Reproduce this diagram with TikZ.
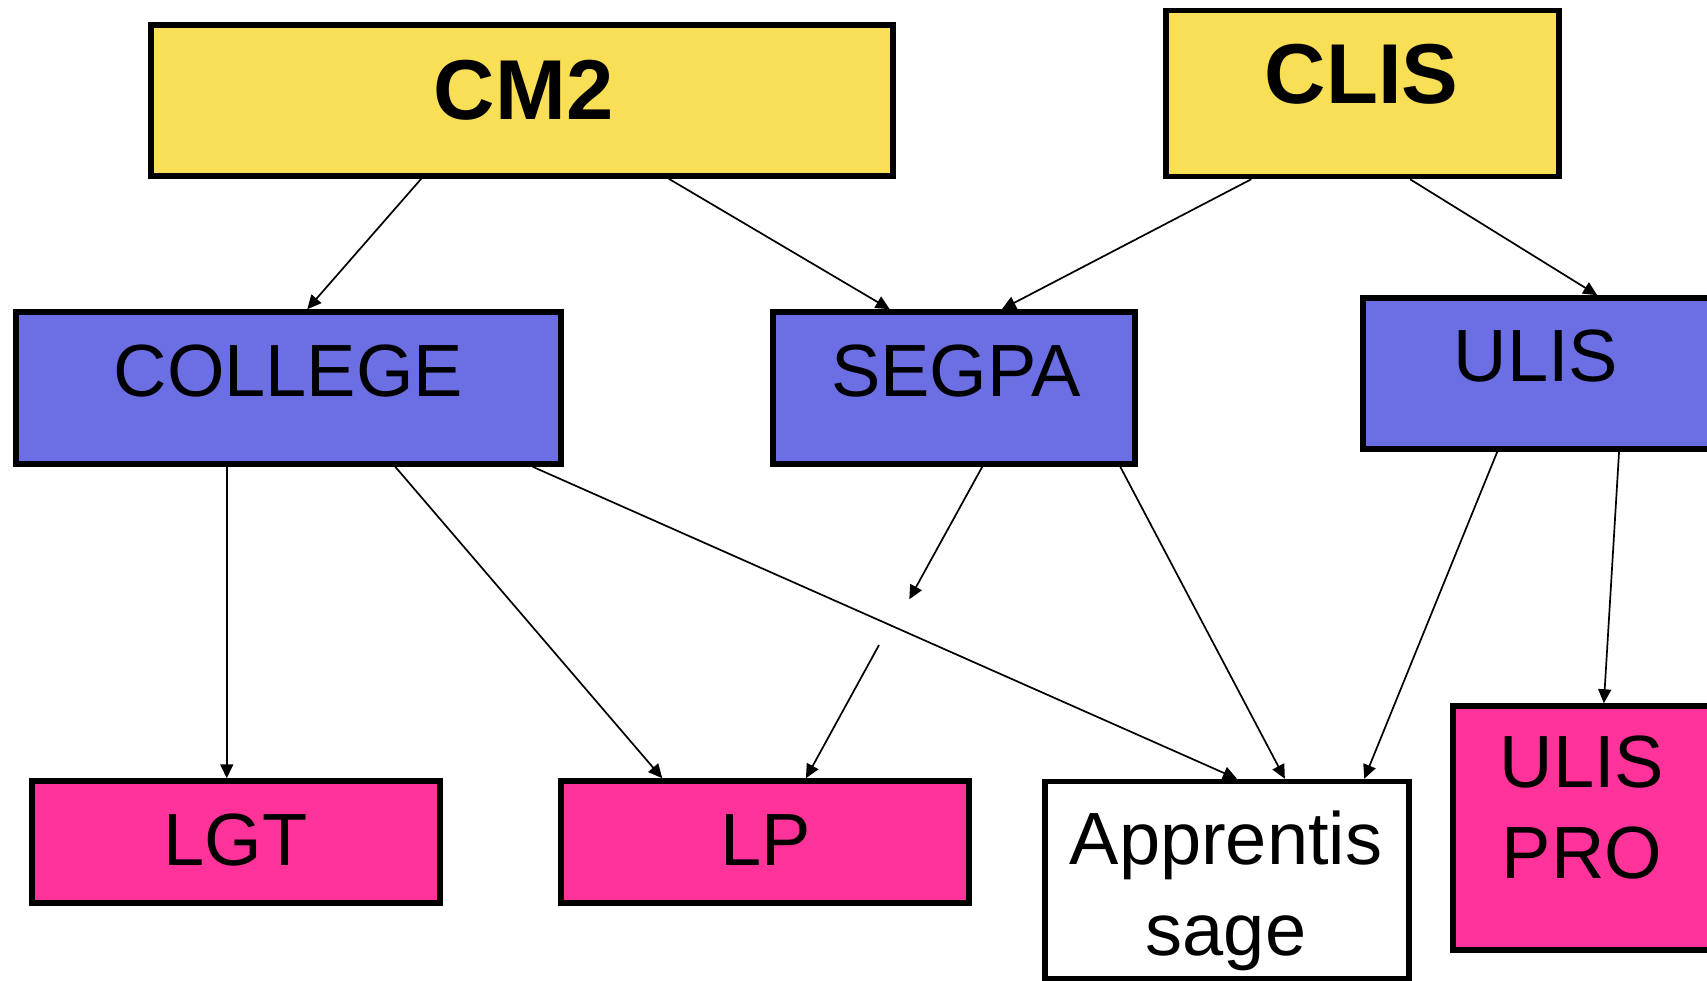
\documentclass[tikz,border=0pt]{standalone}
\usepackage{fontspec}
\setmainfont{Liberation Sans}
\usetikzlibrary{arrows.meta,calc}
\definecolor{cyel}{RGB}{249,223,85}
\definecolor{cblu}{RGB}{108,110,228}
\definecolor{cpnk}{RGB}{255,51,153}
\begin{document}
\begin{tikzpicture}[x=1pt,y=-1pt,
  box/.style={draw=black,line width=5.5pt,rectangle,inner sep=0pt},
  big/.style={font=\fontsize{85}{90}\selectfont\bfseries,inner sep=0pt,anchor=base},
  lbl/.style={font=\fontsize{74}{91}\selectfont,inner sep=0pt,anchor=base,align=center},
  conn/.style={line width=1.7pt,-{Triangle[length=14pt,width=13pt]}}]
\useasboundingbox (0,0) rectangle (1707,981);
% boxes
\node[box,fill=cyel,minimum width=742pt,minimum height=151pt] (cm2) at (522,100.5) {};
\node[box,fill=cyel,minimum width=393pt,minimum height=166pt] (clis) at (1362.5,93.5) {};
\node[box,fill=cblu,minimum width=545pt,minimum height=152pt] (college) at (288.5,388) {};
\node[box,fill=cblu,minimum width=362pt,minimum height=152pt] (segpa) at (954,388) {};
\node[box,fill=cblu,minimum width=350pt,minimum height=151pt] (ulis) at (1538,373.5) {};
\node[box,fill=cpnk,minimum width=408pt,minimum height=122pt] (lgt) at (236,842) {};
\node[box,fill=cpnk,minimum width=408pt,minimum height=122pt] (lp) at (765,842) {};
\node[box,fill=white,minimum width=364pt,minimum height=197pt] (app) at (1227,880) {};
\node[box,fill=cpnk,minimum width=262pt,minimum height=244pt] (ulispro) at (1584,828) {};
% texts
\node[big] (cm2t) at (523.7,119.3) {CM2};
\node[big] (clist) at (1361.5,103.3) {CLIS};
\node[lbl] (colleget) at (288.5,396) {COLLEGE};
\node[lbl] (segpat) at (956,396) {SEGPA};
\node[lbl] (ulist) at (1536,381) {ULIS};
\node[lbl] (lgtt) at (235.5,865.5) {LGT};
\node[lbl] (lpt) at (765.6,865.5) {LP};
\node[lbl] (appt) at (1226,955) {Apprentis\\sage};
\node[lbl] (ulisprot) at (1582,878.5) {ULIS\\PRO};
% free ends of the broken connector
\coordinate (gapA) at (909.3,599.3);
\coordinate (gapB) at (879,645);
% connectors
\draw[conn] ([xshift=273pt]cm2.south west) -- ([xshift=294pt]college.north west);
\draw[conn] ([xshift=520.5pt]cm2.south west) -- ([xshift=119.5pt]segpa.north west);
\draw[conn] ([xshift=88pt]clis.south west) -- ([xshift=231.6pt]segpa.north west);
\draw[conn] ([xshift=246.8pt]clis.south west) -- ([xshift=237pt]ulis.north west);
\draw[conn] ([xshift=213.5pt]college.south west) -- ([xshift=197.5pt]lgt.north west);
\draw[conn] ([xshift=382pt]college.south west) -- ([xshift=104pt]lp.north west);
\draw[conn] ([xshift=519.4pt]college.south west) -- ([xshift=194.7pt]app.north west);
\draw[conn] ([xshift=212pt]segpa.south west) -- (gapA);
\draw[conn] (gapB) -- ([xshift=247.7pt]lp.north west);
\draw[conn] ([xshift=350pt]segpa.south west) -- ([xshift=242.6pt]app.north west);
\draw[conn] ([xshift=137pt]ulis.south west) -- ([xshift=322pt]app.north west);
\draw[conn] ([xshift=258.8pt]ulis.south west) -- ([xshift=153.6pt]ulispro.north west);
\end{tikzpicture}
\end{document}
